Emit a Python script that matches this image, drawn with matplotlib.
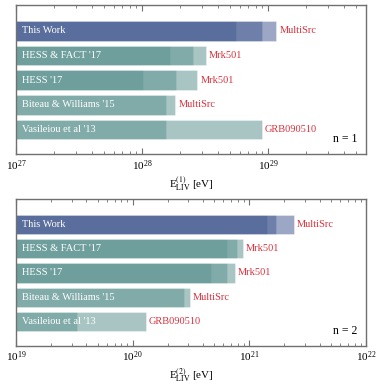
import matplotlib
matplotlib.use("Agg")
import matplotlib.pyplot as plt
import numpy as np

plt.rcParams['font.family'] = ['Liberation Serif', 'DejaVu Serif']
plt.rcParams['mathtext.fontset'] = 'stix'

# bar names, sources and colours (top to bottom)
names = ["This Work", "HESS & FACT '17", "HESS '17", "Biteau & Williams '15", "Vasileiou et al '13"]
sources = ["MultiSrc", "Mrk501", "Mrk501", "MultiSrc", "GRB090510"]
colors = ["#4a6094", "#619694", "#619694", "#619694", "#619694"]

# limits for n = 1 (each bar: list of nested limits, drawn from the left edge)
lims_n1 = [
    [5.6e28, 8.9e28, 1.16e29],
    [1.66e28, 2.52e28, 3.2e28],
    [1.02e28, 1.85e28, 2.74e28],
    [1.54e28, 1.84e28],
    [1.54e28, 8.9e28],
]
# limits for n = 2
lims_n2 = [
    [1.43e21, 1.71e21, 2.41e21],
    [6.4e20, 7.9e20, 8.8e20],
    [4.7e20, 6.5e20, 7.5e20],
    [2.74e20, 3.08e20],
    [3.3e19, 1.3e20],
]

red = "#d9303c"
grey = "#707070"

fig = plt.figure(figsize=(3.82, 3.88), dpi=100)
ax1 = fig.add_axes([0.042, 0.603, 0.916, 0.384])
ax2 = fig.add_axes([0.042, 0.109, 0.916, 0.378])


def draw_panel(ax, lims, xmin, xmax, n):
    ax.set_xscale('log')
    for i, vals in enumerate(lims):
        for v in vals:
            ax.barh(i, v - xmin, left=xmin, height=0.8, color=colors[i], alpha=0.55,
                    edgecolor='white', linewidth=0.4)
        ax.text(xmin * 1.12, i, names[i], color='white', fontsize=7.5, va='center', ha='left')
        ax.text(max(vals) * 1.06, i, sources[i], color=red, fontsize=7.5, va='center', ha='left')
    ax.set_xlim(xmin, xmax)
    ax.set_ylim(5.0, -1.05)
    ax.set_yticks([])
    ax.text(0.975, 0.1, "n = %d" % n, transform=ax.transAxes, fontsize=8.5,
            ha='right', va='center')
    ax.set_xlabel(r"E$_{\rm LIV}^{(%d)}$ [eV]" % n, fontsize=8, labelpad=2)
    ax.tick_params(axis='x', which='both', direction='in', top=True, bottom=True,
                   colors=grey, labelcolor='black', labelsize=8, pad=3)
    ax.tick_params(axis='x', which='major', length=4, width=0.8)
    ax.tick_params(axis='x', which='minor', length=2.5, width=0.6)
    for s in ax.spines.values():
        s.set_color(grey)
        s.set_linewidth(1.0)


draw_panel(ax1, lims_n1, 1e27, 6e29, 1)
draw_panel(ax2, lims_n2, 1e19, 1e22, 2)

fig.savefig("out.png", dpi=100)
